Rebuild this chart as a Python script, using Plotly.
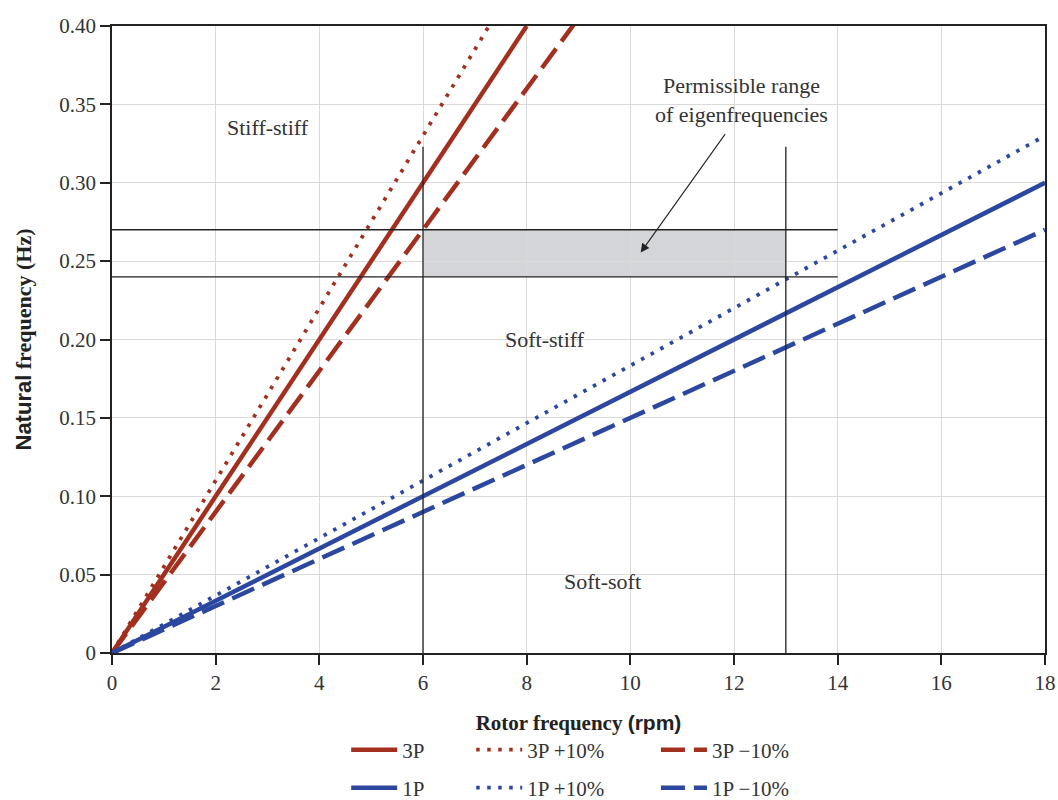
import plotly.graph_objects as go

# ---- data ----
rotor_3p_x = [0, 8]
rotor_3p_y = [0, 0.40]
rotor_3p_plus_x = [0, 8]
rotor_3p_plus_y = [0, 0.44]
rotor_3p_minus_x = [0, 9]
rotor_3p_minus_y = [0, 0.405]
rotor_1p_x = [0, 18]
rotor_1p_y = [0, 0.30]
rotor_1p_plus_y = [0, 0.33]
rotor_1p_minus_y = [0, 0.27]

speed_bounds = [6, 13]          # rpm limits
freq_bounds = [0.24, 0.27]      # permissible natural-frequency band (Hz)
band_line_end = 14
vline_top = 0.323

x_ticks = [0, 2, 4, 6, 8, 10, 12, 14, 16, 18]
y_ticks = [0, 0.05, 0.10, 0.15, 0.20, 0.25, 0.30, 0.35, 0.40]
y_tick_text = ["0", "0.05", "0.10", "0.15", "0.20", "0.25", "0.30", "0.35", "0.40"]

RED = "#A3301F"
BLUE = "#2C47A0"
SERIF = "Liberation Serif, DejaVu Serif, serif"
DOT = "3.5px,7.5px"
DASH = "24px,9px"

series = [
    ("3P", rotor_3p_x, rotor_3p_y, RED, "solid", 4.5, "legend"),
    ("3P +10%", rotor_3p_plus_x, rotor_3p_plus_y, RED, DOT, 3.8, "legend2"),
    ("3P \u221210%", rotor_3p_minus_x, rotor_3p_minus_y, RED, DASH, 4.5, "legend3"),
    ("1P", rotor_1p_x, rotor_1p_y, BLUE, "solid", 4.5, "legend4"),
    ("1P +10%", rotor_1p_x, rotor_1p_plus_y, BLUE, DOT, 3.8, "legend5"),
    ("1P \u221210%", rotor_1p_x, rotor_1p_minus_y, BLUE, DASH, 4.5, "legend6"),
]

fig = go.Figure()

# shaded permissible band
fig.add_shape(type="rect", x0=speed_bounds[0], x1=speed_bounds[1],
              y0=freq_bounds[0], y1=freq_bounds[1],
              fillcolor="#D3D5D8", line=dict(width=0), layer="below")
for fy in freq_bounds:
    fig.add_shape(type="line", x0=0, x1=band_line_end, y0=fy, y1=fy,
                  line=dict(color="#222", width=1.3))
for sx in speed_bounds:
    fig.add_shape(type="line", x0=sx, x1=sx, y0=0, y1=vline_top,
                  line=dict(color="#222", width=1.3))

for name, xs, ys, col, dash, w, lg in series:
    fig.add_trace(go.Scatter(x=xs, y=ys, mode="lines", name=name,
                             line=dict(color=col, dash=dash, width=w),
                             legend=lg, showlegend=True))

# region labels
lab_font = dict(family=SERIF, size=22, color="#333")
fig.add_annotation(x=3.0, y=0.335, text="Stiff-stiff", showarrow=False, font=lab_font)
fig.add_annotation(x=8.35, y=0.1997, text="Soft-stiff", showarrow=False, font=lab_font)
fig.add_annotation(x=9.47, y=0.0453, text="Soft-soft", showarrow=False, font=lab_font)
fig.add_annotation(x=12.15, y=0.353, text="Permissible range<br>of eigenfrequencies",
                   showarrow=False, font=lab_font)
fig.add_annotation(x=10.2, y=0.2555, ax=11.85, ay=0.332, axref="x", ayref="y",
                   xref="x", yref="y", text="", showarrow=True,
                   arrowhead=2, arrowsize=1.6, arrowwidth=1.1, arrowcolor="#222")

tick_font = dict(family=SERIF, size=21, color="#333")
fig.update_xaxes(range=[0, 18], tickvals=x_ticks, ticks="outside", ticklen=10,
                 tickcolor="#222", tickwidth=1.5, showline=True, linecolor="#222",
                 linewidth=1.5, mirror=True, showgrid=True, gridcolor="#DADADA",
                 gridwidth=1, zeroline=False, tickfont=tick_font, automargin=False,
                 title=dict(text="<b>Rotor frequency <span style=\"font-family:Liberation Sans\">(rpm)</span></b>",
                            font=dict(family=SERIF, size=21, color="#222"), standoff=21))
fig.update_yaxes(range=[0, 0.40], tickvals=y_ticks, ticktext=y_tick_text, ticks="outside",
                 ticklen=10, tickcolor="#222", tickwidth=1.5, showline=True,
                 linecolor="#222", linewidth=1.5, mirror=True, showgrid=True,
                 gridcolor="#DADADA", gridwidth=1, zeroline=False, tickfont=tick_font,
                 automargin=False,
                 title=dict(text="<b><span style=\"font-family:Liberation Sans\">Natural</span> frequency (Hz)</b>",
                            font=dict(family=SERIF, size=22, color="#222"), standoff=22))

leg_common = dict(orientation="h", yanchor="middle", xanchor="left",
                  font=dict(family=SERIF, size=21, color="#333"),
                  bgcolor="rgba(0,0,0,0)", itemwidth=46, tracegroupgap=0)
lx = [0.251, 0.385, 0.583]
ly = [-0.1547, -0.2153]
layout_legends = {}
names = ["legend", "legend2", "legend3", "legend4", "legend5", "legend6"]
for i, n in enumerate(names):
    layout_legends[n] = dict(leg_common, x=lx[i % 3], y=ly[i // 3])

fig.update_layout(width=1058, height=800, paper_bgcolor="white", plot_bgcolor="white",
                  margin=dict(l=112, r=13, t=26, b=147, autoexpand=False),
                  **layout_legends)

# remove the default page margin so the figure fills the 1058x800 window exactly
fig.write_html("out.html", config={"displayModeBar": False},
               post_script="document.body.style.margin='0';document.body.style.overflow='hidden';")
